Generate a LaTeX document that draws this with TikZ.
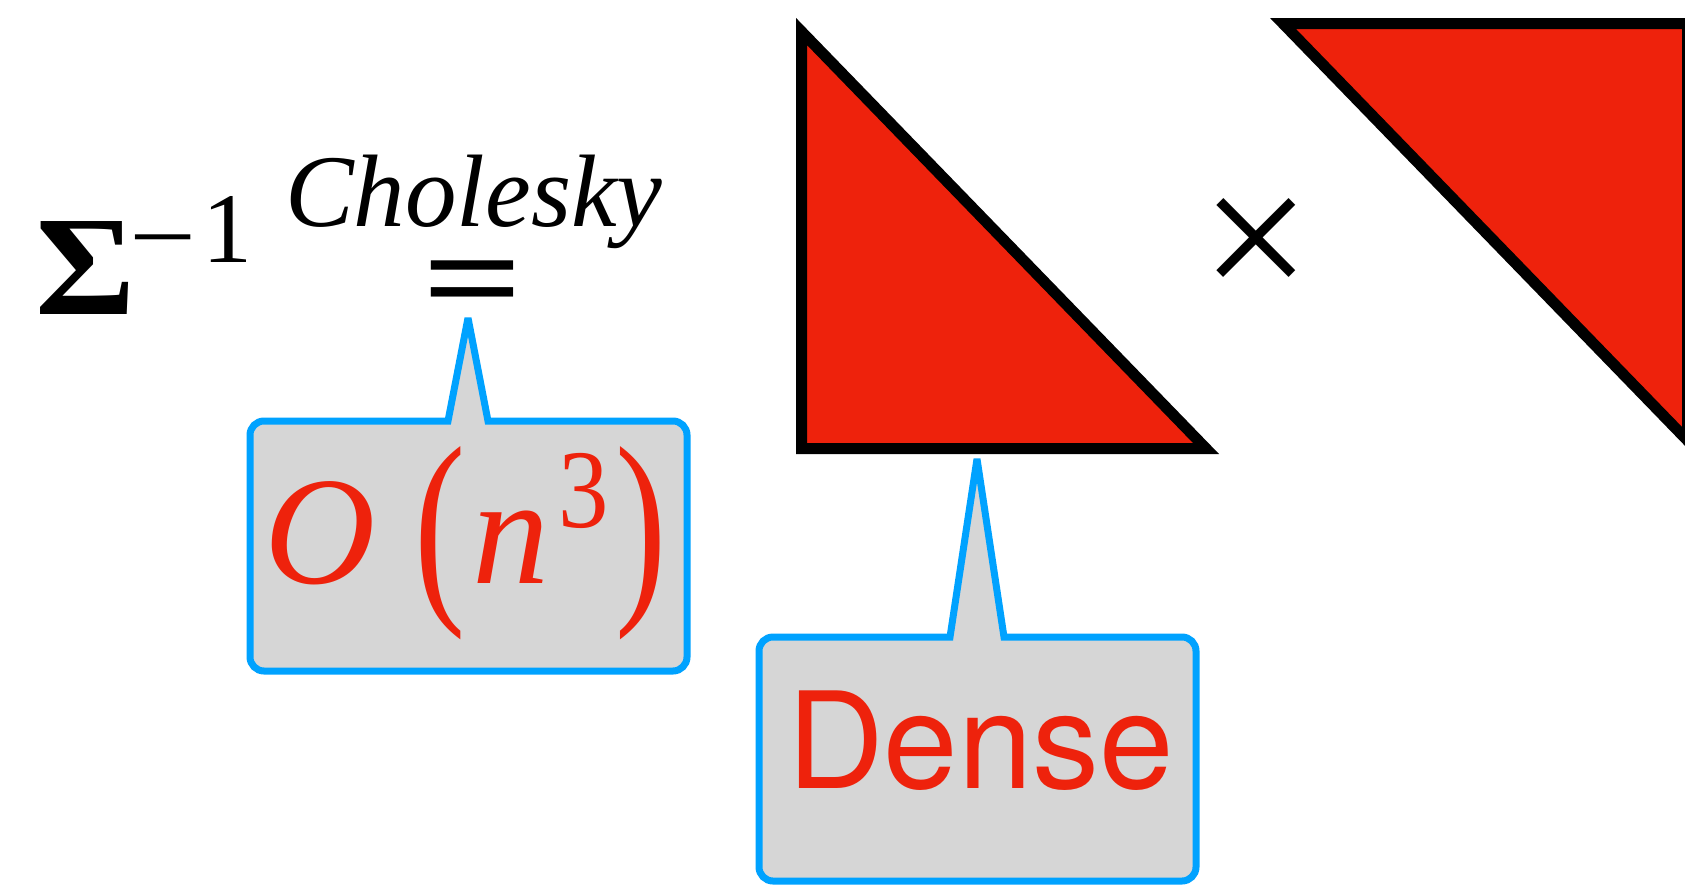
\documentclass[tikz,border=0pt]{standalone}
\usepackage{fontspec}
\setmainfont{Liberation Serif}
\newfontfamily\helv{TeX Gyre Heros}
\definecolor{kred}{RGB}{238,34,12}
\definecolor{kblue}{RGB}{0,162,255}
\definecolor{kgray}{RGB}{214,214,214}
\newcommand{\fz}[1]{\fontsize{#1}{#1}\selectfont}
\begin{document}
\begin{tikzpicture}[x=0.5pt,y=-0.5pt,
  tri/.style={draw=black, fill=kred, line width=5.5pt, line join=miter},
  callout/.style={draw=kblue, fill=kgray, line width=3.5pt, line join=miter, miter limit=3},
  txt/.style={inner sep=0pt, outer sep=0pt}]
\clip (0,0) rectangle (1685,885);
\fill[white] (0,0) rectangle (1685,885);

% triangles
\coordinate (l1) at (801.5,31.5);
\coordinate (l2) at (801.5,448.5);
\coordinate (l3) at (1206,448.5);
\draw[tri] (l1) -- (l2) -- (l3) -- cycle;
\coordinate (r1) at (1283,23.5);
\coordinate (r2) at (1687.5,23.5);
\coordinate (r3) at (1687.5,440.5);
\draw[tri] (r1) -- (r2) -- (r3) -- cycle;

% callout 1
\coordinate (c1tip) at (468,318);
\coordinate (c1bl) at (448,421);
\coordinate (c1br) at (488,421);
\draw[callout] (c1bl) [sharp corners] -- (c1tip) -- (c1br) [rounded corners=7pt] -- (687,421) -- (687,671) -- (250,671) -- (250,421) [sharp corners] -- cycle;

% callout 2
\coordinate (c2tip) at (977,459);
\coordinate (c2bl) at (950,637);
\coordinate (c2br) at (1004,637);
\draw[callout] (c2bl) [sharp corners] -- (c2tip) -- (c2br) [rounded corners=7pt] -- (1196,637) -- (1196,881) -- (759,881) -- (759,637) [sharp corners] -- cycle;

% formula text
\node[txt, anchor=base west, font=\fz{71}\bfseries] (sigma) at (35,314) {\scalebox{1.08}[1]{Σ}};
\node[txt, font=\fz{50}] (minus) at (163,252.5) {\scalebox{1.19}[1]{−}};
\node[txt, anchor=base west, font=\fz{50}] (one) at (202,262) {1};
\node[txt, anchor=base west, font=\fz{51.5}\itshape] (chol) at (285,226) {Cholesky};
\node[txt, font=\fz{79}\bfseries] (eq) at (473,292) {\scalebox{1.12}[0.85]{=}};
\node[txt, font=\fz{97}] (times) at (1256,250) {×};

% O(n^3)
\node[txt, anchor=base west, font=\fz{77}\itshape, text=kred] (bigO) at (264,583) {O};
\node[txt, font=\fz{77}, text=kred] (lp) at (440,543.5) {\scalebox{1}[1.385]{(}};
\node[txt, anchor=base west, font=\fz{77}\itshape, text=kred] (n) at (472,583) {n};
\node[txt, anchor=base west, font=\fz{56}, text=kred] (cube) at (558,527) {\scalebox{0.9}[1]{3}};
\node[txt, font=\fz{77}, text=kred] (rp) at (641.5,543.5) {\scalebox{1}[1.385]{)}};

% Dense
\node[txt, anchor=base west, font=\fz{67}\helv, text=kred] (dense) at (787,788) {Dense};
\end{tikzpicture}
\end{document}
